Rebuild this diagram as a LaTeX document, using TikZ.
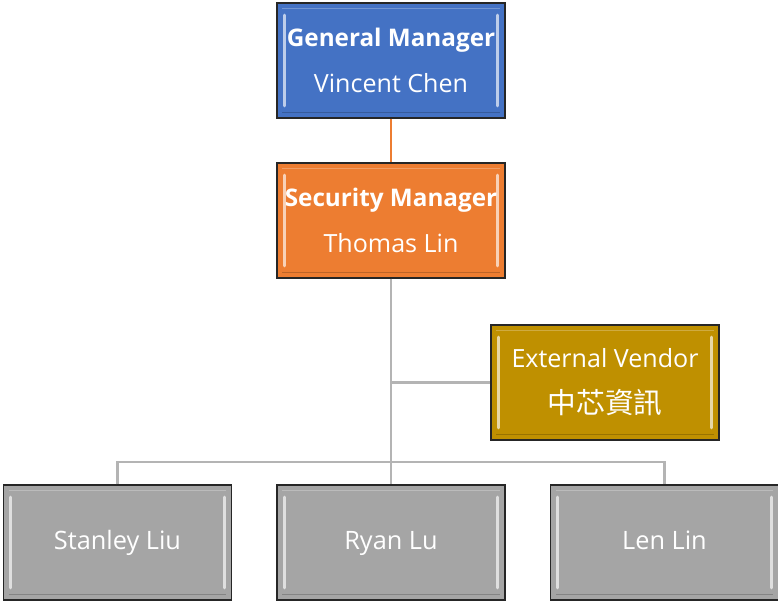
\documentclass[tikz,border=0pt]{standalone}
\usepackage{fontspec}
\setmainfont{Open Sans}
\newfontfamily\cjkfont{Noto Sans CJK TC}
\usetikzlibrary{positioning}

\definecolor{gmblue}{HTML}{4472C4}
\definecolor{smorange}{HTML}{ED7D31}
\definecolor{vendorgold}{HTML}{BF9000}
\definecolor{staffgray}{HTML}{A5A5A5}
\definecolor{linkgray}{HTML}{B4B4B4}

\tikzset{
  org box/.style={rectangle, draw=black!85, line width=1.1pt, minimum width=171pt, minimum height=86pt,
    inner sep=0pt, text=white,
    path picture={
      % bevel highlights on the left and right edges
      \draw[white, opacity=.65, line width=2.4pt, line cap=round]
        ([xshift=5.5pt,yshift=-9pt]path picture bounding box.north west) --
        ([xshift=5.5pt,yshift=9pt]path picture bounding box.south west);
      \draw[white, opacity=.65, line width=2.4pt, line cap=round]
        ([xshift=-5.5pt,yshift=-9pt]path picture bounding box.north east) --
        ([xshift=-5.5pt,yshift=9pt]path picture bounding box.south east);
      \draw[white, opacity=.25, line width=1pt]
        ([xshift=4pt,yshift=-4pt]path picture bounding box.north west) --
        ([xshift=-4pt,yshift=-4pt]path picture bounding box.north east);
      \draw[black, opacity=.2, line width=1pt]
        ([xshift=4pt,yshift=4pt]path picture bounding box.south west) --
        ([xshift=-4pt,yshift=4pt]path picture bounding box.south east);
    }},
  org twoline/.style={org box, align=center, font=\fontsize{18.8}{34.5}\selectfont},
  org head/.style={org twoline, fill=gmblue},
  org lead/.style={org twoline, fill=smorange},
  org vendor/.style={org twoline, fill=vendorgold},
  org staff/.style={org box, fill=staffgray, font=\fontsize{19}{22}\selectfont, text height=14pt, text depth=4pt},
  org link/.style={draw=linkgray, line width=1.6pt},
  org toplink/.style={draw=smorange, line width=1.6pt},
}

\begin{document}
\begin{tikzpicture}[x=0.75pt, y=-0.75pt]
    \useasboundingbox (0,0) rectangle (778,601);
    \node (gm) [org head] at (391,60.5) {{\fontsize{18.2}{34.5}\selectfont\bfseries General Manager}\\Vincent Chen};
    \node (sm) [org lead] at (391,220.5) {{\fontsize{18.2}{34.5}\selectfont\bfseries Security Manager}\\Thomas Lin};
    \node (vendor) [org vendor] at (605,382.5) {External Vendor\\{\cjkfont\fontsize{21.5}{35.5}\selectfont 中芯資訊}};
    \node (stanley) [org staff] at (117.5,542.5) {Stanley Liu};
    \node (ryan) [org staff] at (391,542.5) {Ryan Lu};
    \node (len) [org staff] at (664.5,542.5) {Len Lin};
    \coordinate (bus) at (391,462);
    \draw[org toplink] (gm) -- (sm);
    \draw[org link] (sm) -- (ryan);
    \draw[org link] (sm.south |- vendor.west) -- (vendor.west);
    \draw[org link] (stanley.north) |- (bus) -| (len.north);
  \end{tikzpicture}
\end{document}
